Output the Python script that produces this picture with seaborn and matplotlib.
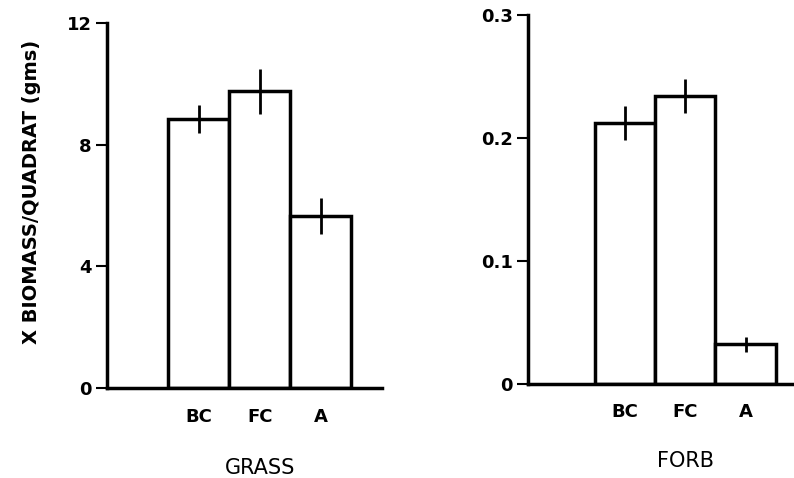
import numpy as np
import pandas as pd
import seaborn as sns
import matplotlib.pyplot as plt

# data
order = ["", "BC", "FC", "A"]          # first slot left empty as in the original
sites = ["BC", "FC", "A"]
grass_mean = [8.85, 9.75, 5.65]
grass_err = [0.45, 0.75, 0.6]
forb_mean = [0.212, 0.234, 0.032]
forb_err = [0.014, 0.014, 0.006]

sns.set_theme(style="ticks")
plt.rcParams['font.family'] = ['DejaVu Sans']
plt.rcParams['text.color'] = 'black'
plt.rcParams['axes.labelcolor'] = 'black'
plt.rcParams['xtick.color'] = 'black'
plt.rcParams['ytick.color'] = 'black'

fig = plt.figure(figsize=(7.94, 4.78), dpi=100)
ax1 = fig.add_axes([0.135, 0.188, 0.346, 0.764])
ax2 = fig.add_axes([0.665, 0.197, 0.335, 0.772])

panels = [
    (ax1, grass_mean, grass_err, "GRASS", [0, 4, 8, 12], ["0", "4", "8", "12"], (0, 12), (-0.5, 4.0), -0.235),
    (ax2, forb_mean, forb_err, "FORB", [0, 0.1, 0.2, 0.3], ["0", "0.1", "0.2", "0.3"], (0, 0.3), (-0.6, 3.8), -0.225),
]

for ax, mean, err, name, yt, ytl, ylim, xlim, ylab in panels:
    df = pd.DataFrame({"site": sites, "val": mean})
    sns.barplot(data=df, x="site", y="val", order=order, ax=ax,
                color="white", edgecolor="black", linewidth=2.5,
                width=1.0, errorbar=None, saturation=1)
    pos = [order.index(s) for s in sites]
    ax.errorbar(pos, mean, yerr=err, fmt="none", ecolor="black",
                elinewidth=2, capsize=0)
    ax.set_ylim(*ylim)
    ax.set_xlim(*xlim)
    ax.set_yticks(yt)
    ax.set_yticklabels(ytl, fontsize=13, fontweight="bold")
    ax.tick_params(axis="y", length=8, width=1.5, direction="out", pad=3)
    ax.tick_params(axis="x", length=0, pad=14, labelsize=13)
    for lbl in ax.get_xticklabels():
        lbl.set_fontweight("bold")
    ax.set_xlabel(name, fontsize=15, fontweight="normal", va="baseline")
    ax.xaxis.set_label_coords((2.0 - xlim[0]) / (xlim[1] - xlim[0]), ylab)
    ax.set_ylabel("")
    sns.despine(ax=ax)
    for sp in ["left", "bottom"]:
        ax.spines[sp].set_linewidth(2.5)
        ax.spines[sp].set_color("black")

ax1.set_ylabel("X BIOMASS/QUADRAT (gms)", fontsize=14, fontweight="bold")
ax1.yaxis.set_label_coords(-0.24, 0.536)

fig.savefig("out.png", dpi=100, facecolor="white")
